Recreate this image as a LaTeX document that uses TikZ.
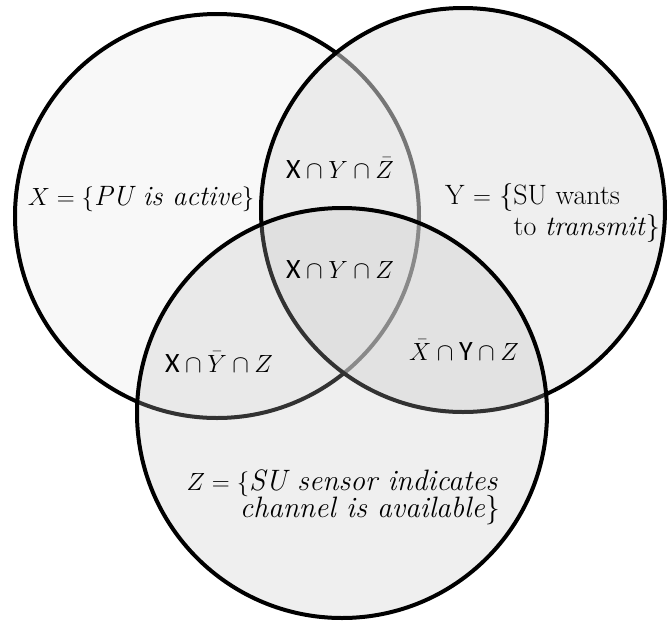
\documentclass[tikz,border=0pt]{standalone}
\usepackage{fontspec}
\setsansfont{Carlito}
\definecolor{xfill}{gray}{0.973}
\definecolor{yfill}{gray}{0.878}
\definecolor{zfill}{gray}{0.761}
\tikzset{
  setcircle/.style={draw=black, line width=4pt},
  lbl/.style={inner sep=0pt, font=\fontsize{28}{33}\selectfont},
  zlbl/.style={inner sep=0pt, font=\fontsize{29.5}{35}\selectfont},
}
\begin{document}
\begin{tikzpicture}[x=1pt,y=-1pt]
\useasboundingbox (0,0) rectangle (670,622);
% circles
\draw[setcircle, fill=xfill] (217,216) circle[radius=202];
\draw[setcircle, fill=yfill, fill opacity=0.53] (463,210) circle[radius=202];
\draw[setcircle, fill=zfill, fill opacity=0.263] (342,413) circle[radius=205];
\coordinate (cx) at (217,216);
\coordinate (cy) at (463,210);
\coordinate (cz) at (342,413);
% labels
\node[lbl] (lx) at (141,199) {$X=\{$\textit{PU is active}$\}$};
\node[lbl, anchor=west] (ly1) at (445,197) {Y $=$ \{SU wants};
\node[lbl, anchor=east] (ly2) at (660,228) {to \textit{transmit}\}};
\node[zlbl, anchor=east] (lz1) at (498,483) {$Z=\{$\textit{SU sensor indicates}};
\node[zlbl, anchor=east] (lz2) at (500,510) {\textit{channel is available}\}};
\node[lbl] (xyz1) at (340,168) {$\mathsf{X}\cap Y\cap\bar{Z}$};
\node[lbl] (xyz) at (340,270) {$\mathsf{X}\cap Y\cap Z$};
\node[lbl] (xyz2) at (219,362) {$\mathsf{X}\cap\bar{Y}\cap Z$};
\node[lbl] (xyz3) at (464,350) {$\bar{X}\cap\mathsf{Y}\cap Z$};
\end{tikzpicture}
\end{document}
